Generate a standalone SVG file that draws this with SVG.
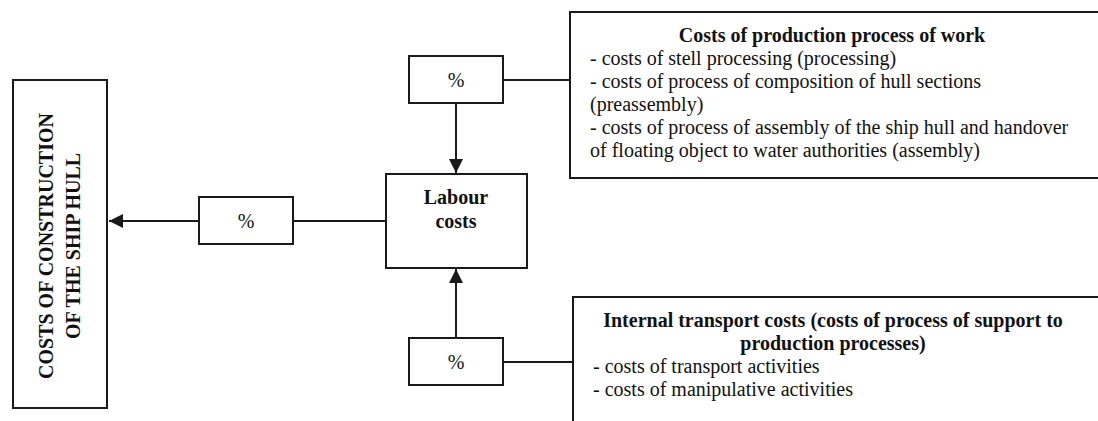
<svg xmlns="http://www.w3.org/2000/svg" width="1098" height="421" viewBox="0 0 1098 421">
  <style>
    .box { fill: #ffffff; stroke: #1a1a1a; stroke-width: 2; }
    .line { fill: none; stroke: #1a1a1a; stroke-width: 2; }
    .t { font-family: "Liberation Serif", "Times New Roman", serif; font-size: 20px; fill: #111111; }
    .b { font-weight: bold; }
    .c { text-anchor: middle; }
  </style>
  <defs>
    <marker id="arrow" markerUnits="userSpaceOnUse" markerWidth="15" markerHeight="14" refX="14" refY="7" orient="auto">
      <path d="M0,0 L14,7 L0,14 Z" fill="#1a1a1a"/>
    </marker>
  </defs>
  <rect width="1098" height="421" fill="#ffffff"/>

  <!-- connectors -->
  <g id="connectors">
    <line class="line" x1="199" y1="221" x2="109" y2="221" marker-end="url(#arrow)"/>
    <line class="line" x1="293" y1="221" x2="386" y2="221"/>
    <line class="line" x1="456" y1="103" x2="456" y2="173" marker-end="url(#arrow)"/>
    <line class="line" x1="503" y1="80" x2="570" y2="80"/>
    <line class="line" x1="456" y1="338" x2="456" y2="269" marker-end="url(#arrow)"/>
    <line class="line" x1="503" y1="362" x2="573" y2="362"/>
  </g>

  <!-- total cost block, vertical caption -->
  <g id="hull-costs">
    <rect class="box" x="13" y="80" width="94" height="328"/>
    <g transform="translate(53,246) rotate(-90)">
      <text class="t b c" x="0" y="0">COSTS OF CONSTRUCTION</text>
    </g>
    <g transform="translate(80,246) rotate(-90)">
      <text class="t b c" x="0" y="0">OF THE SHIP HULL</text>
    </g>
  </g>

  <g id="pct-left">
    <rect class="box" x="199" y="197" width="94" height="47"/>
    <text class="t c" x="246" y="228">%</text>
  </g>

  <g id="labour">
    <rect class="box" x="386" y="174" width="141" height="94"/>
    <text class="t b c" x="456" y="204">Labour</text>
    <text class="t b c" x="456" y="228">costs</text>
  </g>

  <g id="pct-top">
    <rect class="box" x="409" y="56" width="94" height="47"/>
    <text class="t c" x="456" y="87">%</text>
  </g>

  <g id="pct-bottom">
    <rect class="box" x="409" y="338" width="94" height="47"/>
    <text class="t c" x="456" y="369">%</text>
  </g>

  <g id="production-work">
    <rect class="box" x="570" y="12" width="560" height="166"/>
    <text class="t b c" x="832" y="42">Costs of production process of work</text>
    <text class="t" x="590" y="65">- costs of stell processing (processing)</text>
    <text class="t" x="590" y="88">- costs of process of composition of hull sections</text>
    <text class="t" x="590" y="111">(preassembly)</text>
    <text class="t" x="590" y="134">- costs of process of assembly of the ship hull and handover</text>
    <text class="t" x="590" y="157">of floating object to water authorities (assembly)</text>
  </g>

  <g id="internal-transport">
    <rect class="box" x="573" y="297" width="560" height="160"/>
    <text class="t b c" x="833" y="327">Internal transport costs (costs of process of support to</text>
    <text class="t b c" x="833" y="350">production processes)</text>
    <text class="t" x="593" y="373">- costs of transport activities</text>
    <text class="t" x="593" y="396">- costs of manipulative activities</text>
  </g>
</svg>
